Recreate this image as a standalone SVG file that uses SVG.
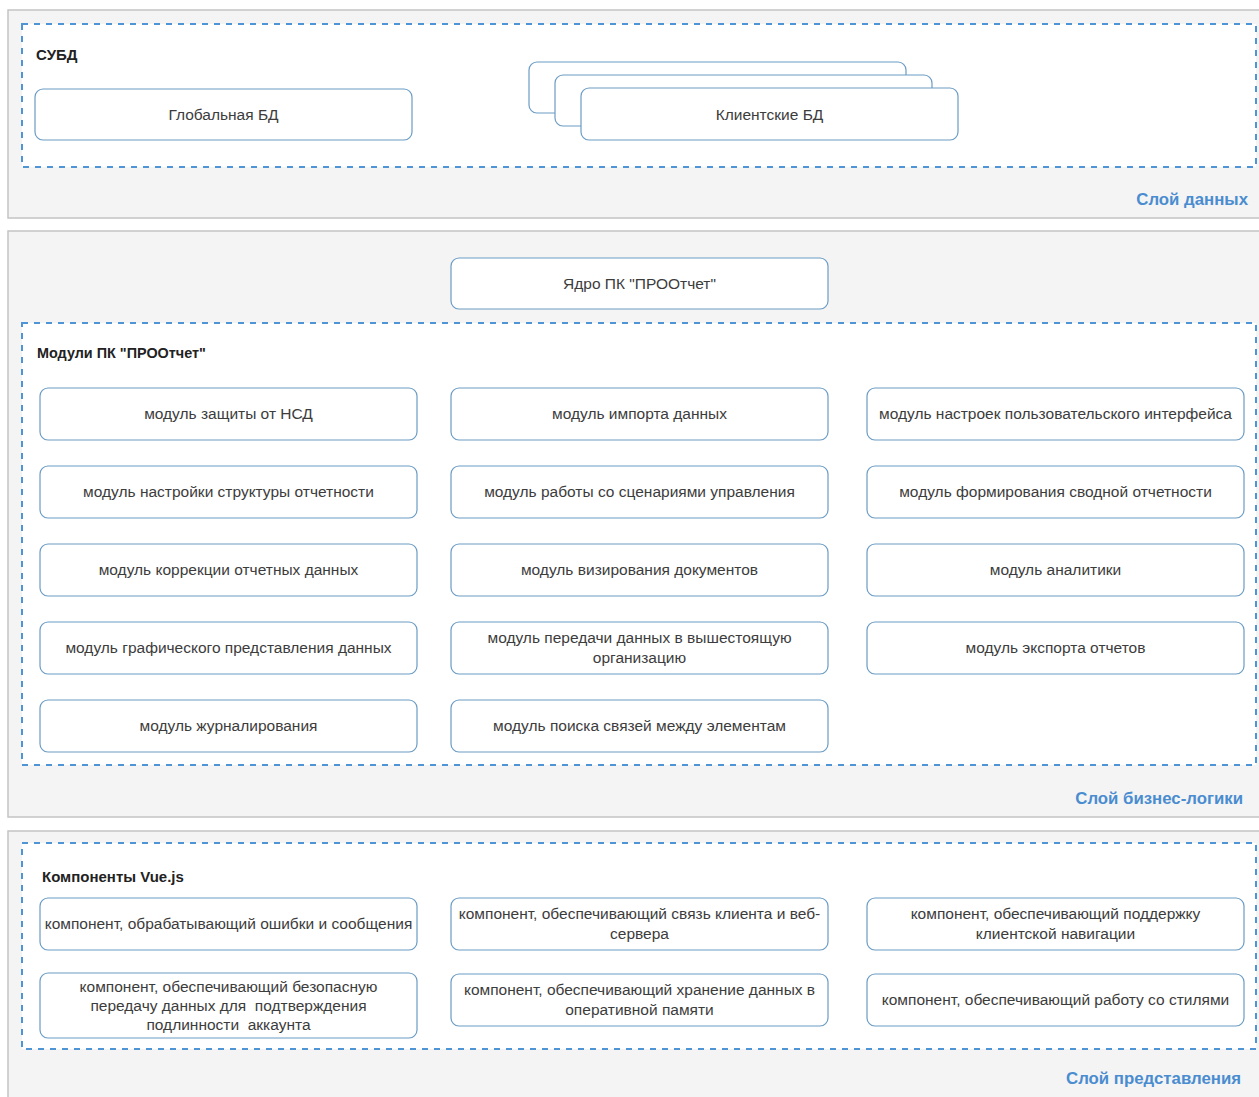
<svg xmlns="http://www.w3.org/2000/svg" width="1259" height="1097" viewBox="0 0 1259 1097">
<style>
.layer{fill:#f4f4f4;stroke:#c4c4c4;stroke-width:1.5}
.grp{fill:#ffffff;stroke:#4f95d6;stroke-width:2;stroke-dasharray:6 6}
.box{fill:#ffffff;stroke:#6b9cc4;stroke-width:1.2}
.t{font-family:"Liberation Sans",Arial,sans-serif;font-size:15.5px;fill:#3c3c3c;text-anchor:middle}
.h{font-family:"Liberation Sans",Arial,sans-serif;font-size:15px;font-weight:bold;fill:#222222}
.lbl{font-family:"Liberation Sans",Arial,sans-serif;font-size:16.8px;font-weight:bold;fill:#4a8cd0;text-anchor:end}
</style>
<rect width="1259" height="1097" fill="#ffffff"/>
<g id="layer-data">
<rect class="layer" x="8" y="10" width="1270" height="208"/>
<rect class="grp" x="22" y="24" width="1234" height="143"/>
<text class="h" x="36" y="60">СУБД</text>
<text class="lbl" x="1248" y="205">Слой данных</text>
</g>
<g id="node-global-db">
<rect class="box" x="35" y="89" width="377" height="51" rx="8"/>
<text class="t" x="223.5" y="120">Глобальная БД</text>
</g>
<g id="node-client-db">
<rect class="box" x="529" y="62" width="377" height="51" rx="8"/>
<rect class="box" x="555" y="75" width="377" height="51" rx="8"/>
<rect class="box" x="581" y="88" width="377" height="52" rx="8"/>
<text class="t" x="769.5" y="120">Клиентские БД</text>
</g>
<g id="layer-business">
<rect class="layer" x="8" y="231" width="1270" height="586"/>
<rect class="grp" x="22" y="323" width="1234" height="442"/>
<text class="h" x="37" y="358" style="font-size:14.4px">Модули ПК "ПРООтчет"</text>
<text class="lbl" x="1243" y="804">Слой бизнес-логики</text>
</g>
<g id="node-core">
<rect class="box" x="451" y="258" width="377" height="51" rx="8"/>
<text class="t" x="639.5" y="289">Ядро ПК "ПРООтчет"</text>
</g>
<g id="m1"><rect class="box" x="40" y="388" width="377" height="52" rx="8"/><text class="t" x="228.5" y="419">модуль защиты от НСД</text></g>
<g id="m2"><rect class="box" x="451" y="388" width="377" height="52" rx="8"/><text class="t" x="639.5" y="419">модуль импорта данных</text></g>
<g id="m3"><rect class="box" x="867" y="388" width="377" height="52" rx="8"/><text class="t" x="1055.5" y="419">модуль настроек пользовательского интерфейса</text></g>
<g id="m4"><rect class="box" x="40" y="466" width="377" height="52" rx="8"/><text class="t" x="228.5" y="497">модуль настройки структуры отчетности</text></g>
<g id="m5"><rect class="box" x="451" y="466" width="377" height="52" rx="8"/><text class="t" x="639.5" y="497">модуль работы со сценариями управления</text></g>
<g id="m6"><rect class="box" x="867" y="466" width="377" height="52" rx="8"/><text class="t" x="1055.5" y="497">модуль формирования сводной отчетности</text></g>
<g id="m7"><rect class="box" x="40" y="544" width="377" height="52" rx="8"/><text class="t" x="228.5" y="575">модуль коррекции отчетных данных</text></g>
<g id="m8"><rect class="box" x="451" y="544" width="377" height="52" rx="8"/><text class="t" x="639.5" y="575">модуль визирования документов</text></g>
<g id="m9"><rect class="box" x="867" y="544" width="377" height="52" rx="8"/><text class="t" x="1055.5" y="575">модуль аналитики</text></g>
<g id="m10"><rect class="box" x="40" y="622" width="377" height="52" rx="8"/><text class="t" x="228.5" y="653">модуль графического представления данных</text></g>
<g id="m11"><rect class="box" x="451" y="622" width="377" height="52" rx="8"/><text class="t" x="639.5" y="643">модуль передачи данных в вышестоящую</text><text class="t" x="639.5" y="663">организацию</text></g>
<g id="m12"><rect class="box" x="867" y="622" width="377" height="52" rx="8"/><text class="t" x="1055.5" y="653">модуль экспорта отчетов</text></g>
<g id="m13"><rect class="box" x="40" y="700" width="377" height="52" rx="8"/><text class="t" x="228.5" y="731">модуль журналирования</text></g>
<g id="m14"><rect class="box" x="451" y="700" width="377" height="52" rx="8"/><text class="t" x="639.5" y="731">модуль поиска связей между элементам</text></g>
<g id="layer-presentation">
<rect class="layer" x="8" y="831" width="1270" height="290"/>
<rect class="grp" x="22" y="843" width="1234" height="206"/>
<text class="h" x="42" y="882">Компоненты Vue.js</text>
<text class="lbl" x="1241" y="1084">Слой представления</text>
</g>
<g id="c1"><rect class="box" x="40" y="898" width="377" height="52" rx="8"/><text class="t" x="228.5" y="929">компонент, обрабатывающий ошибки и сообщения</text></g>
<g id="c2"><rect class="box" x="451" y="898" width="377" height="52" rx="8"/><text class="t" x="639.5" y="919">компонент, обеспечивающий связь клиента и веб-</text><text class="t" x="639.5" y="939">сервера</text></g>
<g id="c3"><rect class="box" x="867" y="898" width="377" height="52" rx="8"/><text class="t" x="1055.5" y="919">компонент, обеспечивающий поддержку</text><text class="t" x="1055.5" y="939">клиентской навигации</text></g>
<g id="c4"><rect class="box" x="40" y="973" width="377" height="65" rx="8"/><text class="t" x="228.5" y="992">компонент, обеспечивающий безопасную</text><text class="t" x="228.5" y="1011" style="white-space:pre">передачу данных для  подтверждения</text><text class="t" x="228.5" y="1030" style="white-space:pre">подлинности  аккаунта</text></g>
<g id="c5"><rect class="box" x="451" y="974" width="377" height="52" rx="8"/><text class="t" x="639.5" y="995">компонент, обеспечивающий хранение данных в</text><text class="t" x="639.5" y="1015">оперативной памяти</text></g>
<g id="c6"><rect class="box" x="867" y="974" width="377" height="52" rx="8"/><text class="t" x="1055.5" y="1005">компонент, обеспечивающий работу со стилями</text></g>
<g id="connectors"></g>
</svg>
